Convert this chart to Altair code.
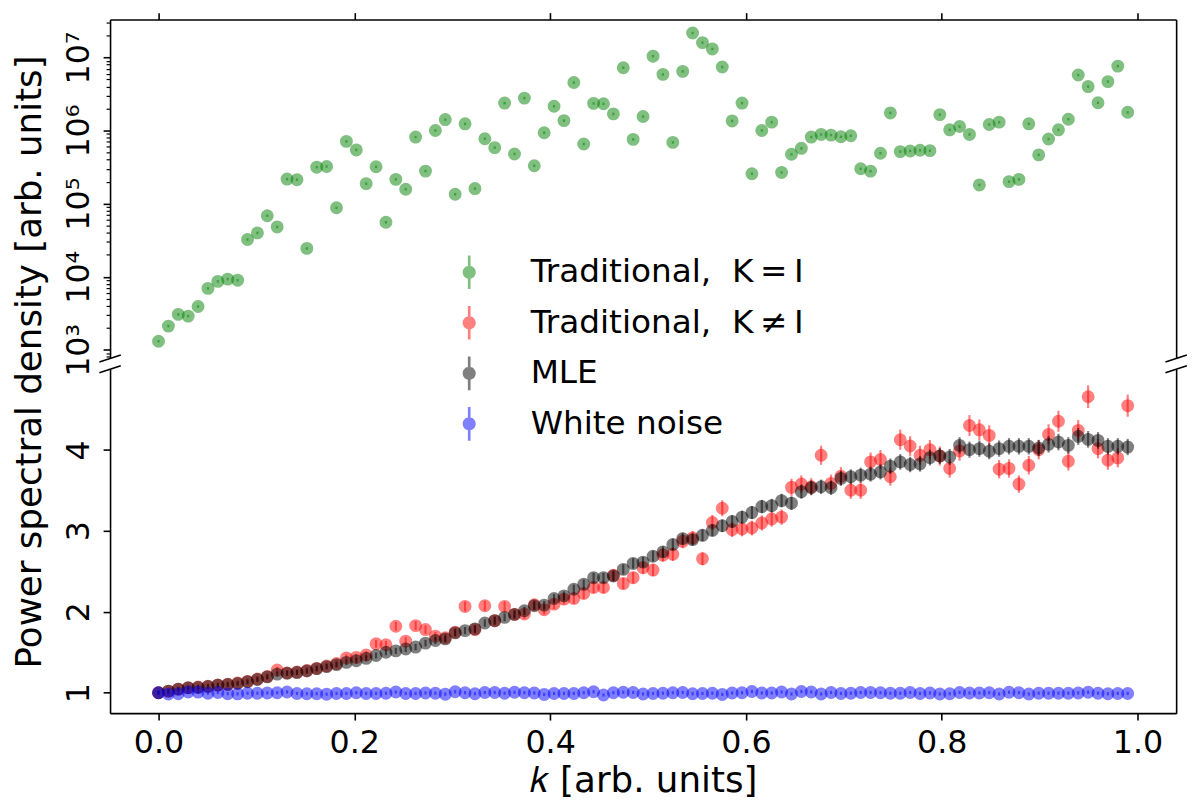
import altair as alt
import pandas as pd

# k grid (arb. units)
K = [0.0, 0.0101, 0.0202, 0.0303, 0.0404, 0.0505, 0.0606, 0.0707, 0.0808, 0.0909,
     0.1010, 0.1111, 0.1212, 0.1313, 0.1414, 0.1515, 0.1616, 0.1717, 0.1818, 0.1919,
     0.2020, 0.2121, 0.2222, 0.2323, 0.2424, 0.2525, 0.2626, 0.2727, 0.2828, 0.2929,
     0.3030, 0.3131, 0.3232, 0.3333, 0.3434, 0.3535, 0.3636, 0.3737, 0.3838, 0.3939,
     0.4040, 0.4141, 0.4242, 0.4343, 0.4444, 0.4545, 0.4646, 0.4747, 0.4848, 0.4949,
     0.5051, 0.5152, 0.5253, 0.5354, 0.5455, 0.5556, 0.5657, 0.5758, 0.5859, 0.5960,
     0.6061, 0.6162, 0.6263, 0.6364, 0.6465, 0.6566, 0.6667, 0.6768, 0.6869, 0.6970,
     0.7071, 0.7172, 0.7273, 0.7374, 0.7475, 0.7576, 0.7677, 0.7778, 0.7879, 0.7980,
     0.8081, 0.8182, 0.8283, 0.8384, 0.8485, 0.8586, 0.8687, 0.8788, 0.8889, 0.8990,
     0.9091, 0.9192, 0.9293, 0.9394, 0.9495, 0.9596, 0.9697, 0.9798, 0.9899]

# traditional estimate, K = I (top, log panel)
TRAD_EYE = [1310, 2110, 3050, 2890, 3910, 6930, 8630, 9270, 8970, 32300,
            39800, 68400, 48000, 216800, 212800, 24400, 315500, 322100, 87700, 711200,
            543300, 187900, 319200, 55600, 214800, 157400, 814700, 278600, 1002000, 1413000,
            134600, 1236000, 160700, 772700, 583400, 2377000, 478600, 2780000, 329600, 933300,
            2153000, 1368000, 4539000, 654600, 2355000, 2328000, 1690000, 7244000, 756800, 1556000,
            10420000, 5875000, 688700, 6457000, 21630000, 15960000, 13090000, 7396000, 1355000, 2377000,
            256400, 1002000, 1303000, 267300, 473200, 571500, 814700, 885100, 867000, 822200,
            849200, 300600, 278600, 488700, 1742000, 515200, 526000, 537000, 530900, 1652000,
            1023000, 1135000, 885100, 180300, 1211000, 1303000, 200000, 214800, 1236000, 464500,
            765600, 1023000, 1429000, 5754000, 4000000, 2399000, 4677000, 7621000, 1778000]

# traditional estimate, K != I
TRAD_FULL = [1.00, 1.02, 1.045, 1.06, 1.07, 1.08, 1.095, 1.105, 1.12, 1.14,
             1.17, 1.20, 1.28, 1.245, 1.255, 1.275, 1.30, 1.33, 1.36, 1.43,
             1.436, 1.467, 1.604, 1.592, 1.821, 1.637, 1.829, 1.780, 1.699, 1.678,
             1.748, 2.066, 1.780, 2.074, 1.89, 2.066, 1.968, 1.972, 2.086, 2.025,
             2.094, 2.156, 2.164, 2.225, 2.299, 2.299, 2.45, 2.348, 2.421, 2.544,
             2.515, 2.70, 2.71, 2.870, 2.912, 2.654, 3.103, 3.279, 3.013, 3.022,
             3.034, 3.096, 3.145, 3.169, 3.537, 3.577, 3.544, 3.933, 3.586, 3.675,
             3.500, 3.500, 3.851, 3.880, 3.667, 4.125, 4.047, 3.933, 4.002, 3.924,
             3.770, 3.985, 4.300, 4.247, 4.178, 3.761, 3.770, 3.577, 3.810, 4.002,
             4.190, 4.353, 3.859, 4.240, 4.656, 4.015, 3.871, 3.900, 4.545]

MLE = [1.000, 1.020, 1.045, 1.061, 1.065, 1.077, 1.094, 1.102, 1.114, 1.135,
       1.163, 1.196, 1.230, 1.240, 1.249, 1.269, 1.298, 1.322, 1.347, 1.375,
       1.396, 1.425, 1.46, 1.50, 1.517, 1.540, 1.564, 1.613, 1.645, 1.665,
       1.739, 1.767, 1.788, 1.861, 1.890, 1.931, 1.968, 2.012, 2.074, 2.082,
       2.164, 2.196, 2.278, 2.339, 2.421, 2.421, 2.441, 2.523, 2.597, 2.613,
       2.686, 2.740, 2.830, 2.903, 2.891, 2.944, 3.005, 3.062, 3.115, 3.169,
       3.225, 3.299, 3.311, 3.373, 3.341, 3.483, 3.532, 3.544, 3.532, 3.647,
       3.667, 3.687, 3.700, 3.728, 3.798, 3.851, 3.819, 3.826, 3.904, 3.924,
       3.912, 4.055, 4.002, 4.015, 3.982, 4.015, 4.043, 4.043, 4.043, 4.022,
       4.067, 4.096, 4.055, 4.165, 4.129, 4.116, 4.043, 4.043, 4.034]

WHITE = [1.000, 0.985, 0.987, 1.009, 1.008, 0.994, 1.003, 0.988, 0.986, 0.994,
         0.994, 0.997, 1.000, 1.009, 0.991, 0.988, 0.988, 0.982, 0.991, 0.991,
         1.000, 0.991, 0.991, 0.994, 1.009, 0.991, 0.991, 0.997, 0.994, 0.982,
         1.012, 1.000, 0.988, 1.003, 1.003, 0.994, 1.006, 1.000, 0.997, 0.979,
         0.991, 0.991, 0.991, 1.000, 1.012, 0.972, 1.000, 1.006, 1.003, 0.985,
         0.991, 0.994, 1.000, 1.003, 0.988, 0.991, 0.994, 0.979, 0.997, 1.000,
         1.015, 0.997, 0.997, 1.009, 0.985, 1.015, 1.009, 0.985, 1.003, 0.991,
         0.994, 1.003, 1.003, 1.000, 0.994, 0.994, 1.003, 0.991, 0.997, 0.985,
         0.988, 1.003, 0.997, 0.997, 1.000, 0.985, 1.006, 1.000, 0.985, 0.994,
         0.994, 0.994, 0.994, 0.997, 1.006, 0.994, 0.988, 0.991, 0.991]

SERIES = ["Traditional,\u00a0\u00a0K\u2009=\u2009I",
          "Traditional,\u00a0\u00a0K\u2009\u2260\u2009I",
          "MLE",
          "White noise"]
COLORS = ["#008000", "#ff0000", "#000000", "#0000ff"]
REL_ERR = [0.04, 0.03, 0.025, 0.02]

XTICKS = [0.0, 0.2, 0.4, 0.6, 0.8, 1.0]
LOG_TICKS = [800, 900] + [m * 10 ** e for e in range(3, 8) for m in range(1, 10)
                          if m * 10 ** e <= 3e7]
LIN_TICKS = [1, 2, 3, 4]

rows = []
for name, vals, err in zip(SERIES, [TRAD_EYE, TRAD_FULL, MLE, WHITE], REL_ERR):
    for k, v in zip(K, vals):
        rows.append({"k": k, "series": name, "val": v,
                     "lo": v * (1 - err), "hi": v * (1 + err)})
df = pd.DataFrame(rows)

FONT = "DejaVu Sans"
W, H_TOP, H_BOT = 1076, 342, 347
xs = alt.Scale(domain=[-0.0495, 1.0394], nice=False, zero=False)
ys_top = alt.Scale(type="log", domain=[762, 3.3e7], nice=False)
ys_bot = alt.Scale(domain=[0.748, 4.994], nice=False, zero=False)

major = "abs(log(datum.value)/LN10 - round(log(datum.value)/LN10)) < 0.01"
log_labels = ("datum.value == 1000 ? '10\u00b3' : datum.value == 10000 ? '10\u2074' : "
              "datum.value == 100000 ? '10\u2075' : datum.value == 1000000 ? '10\u2076' : "
              "datum.value == 10000000 ? '10\u2077' : ''")

x_top = alt.X("k:Q", scale=xs, axis=alt.Axis(orient="top", values=XTICKS, labels=False,
                                              tickSize=7, title=None))
x_bot = alt.X("k:Q", scale=xs, axis=alt.Axis(orient="bottom", values=XTICKS, format=".1f",
                                              tickSize=7, labelPadding=8,
                                              title="\U0001d458 [arb. units]",
                                              titleY=51, titleBaseline="top"))
right_spine = alt.Axis(orient="right", ticks=False, labels=False, title=None)

top_left = alt.Axis(orient="left", values=LOG_TICKS, labelExpr=log_labels, labelOverlap=False,
                    tickSize={"condition": {"test": major, "value": 7}, "value": 4},
                    tickWidth={"condition": {"test": major, "value": 1.6}, "value": 1.2},
                    labelAngle=270, labelAlign="center", labelBaseline="alphabetic",
                    labelPadding=15, title=None)
bot_left = alt.Axis(orient="left", values=LIN_TICKS, format="d", tickSize=7,
                    labelAngle=270, labelAlign="center", labelBaseline="alphabetic",
                    labelPadding=15, title="Power spectral density [arb. units]",
                    titleAngle=270, titleX=-70.5, titleY=-8, titleAlign="center",
                    titleBaseline="alphabetic")

LEGEND_SYMBOL = ("M-0.08,-1H0.08V1H-0.08Z"
                 "M-0.39,0A0.39,0.39 0 1 1 0.39,0A0.39,0.39 0 1 1 -0.39,0Z")


def brk(x, y):
    # small diagonal axis-break mark
    return alt.Chart(alt.Data(values=[{"b": 1}])).mark_rule(
        color="black", strokeWidth=1.6
    ).encode(x=alt.value(x - 10.8), x2=alt.value(x + 10.8),
             y=alt.value(y + 3.5), y2=alt.value(y - 3.5))


def series_layers(name, color, x, ys, axis_rule, axis_pt, legend=None):
    sub = alt.Chart(df).transform_filter(alt.datum.series == name)
    rules = sub.mark_rule(opacity=0.5, strokeWidth=2.2, color=color).encode(
        x=x, y=alt.Y("lo:Q", scale=ys, axis=axis_rule), y2="hi:Q")
    if legend is None:
        c = alt.value(color)
    else:
        c = alt.Color("series:N", scale=alt.Scale(domain=SERIES, range=COLORS), legend=legend)
    pts = sub.mark_circle(opacity=0.5, size=170).encode(
        x=x, y=alt.Y("val:Q", scale=ys, axis=axis_pt), color=c)
    return [rules, pts]


legend = alt.Legend(title=None, orient="none", legendX=345.5, legendY=238, padding=0,
                    symbolType=LEGEND_SYMBOL, symbolSize=1156, symbolOpacity=0.5,
                    symbolStrokeWidth=0, labelFont=FONT, labelFontSize=33,
                    labelOffset=45, rowPadding=17, labelLimit=800, labelColor="black")

top = alt.layer(
    *series_layers(SERIES[0], COLORS[0], x_top, ys_top, top_left, right_spine, legend),
    brk(0, H_TOP), brk(W, H_TOP)
).resolve_axis(y="independent").properties(width=W, height=H_TOP)

bottom = alt.layer(
    *series_layers(SERIES[1], COLORS[1], x_bot, ys_bot, bot_left, right_spine),
    *series_layers(SERIES[2], COLORS[2], x_bot, ys_bot, None, None),
    *series_layers(SERIES[3], COLORS[3], x_bot, ys_bot, None, None),
    brk(0, 0), brk(W, 0)
).resolve_axis(y="independent").properties(width=W, height=H_BOT)

chart = alt.vconcat(top, bottom, spacing=11, bounds="flush").properties(
    padding={"left": 3, "top": 0, "right": 4, "bottom": 0}
).configure_view(stroke=None).configure_axis(
    grid=False, domainColor="black", domainWidth=1.6, tickColor="black", tickWidth=1.6,
    labelColor="black", labelFont=FONT, labelFontSize=32,
    titleColor="black", titleFont=FONT, titleFontSize=36, titleFontWeight="normal"
)

chart.save("out.html", embed_options={"renderer": "svg", "actions": False})
